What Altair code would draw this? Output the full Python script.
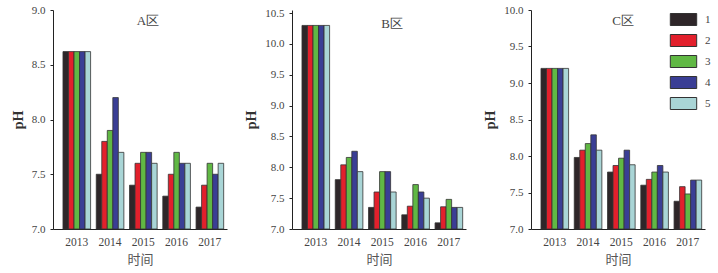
import altair as alt
import pandas as pd

years = ["2013", "2014", "2015", "2016", "2017"]
series = ["1", "2", "3", "4", "5"]
colors = ["#2e2629", "#e2202c", "#60b844", "#3a3e95", "#a9d5d6"]

# values per series (1..5), one list per year
a_vals = {
    "2013": [8.62, 8.62, 8.62, 8.62, 8.62],
    "2014": [7.50, 7.80, 7.90, 8.20, 7.70],
    "2015": [7.40, 7.60, 7.70, 7.70, 7.60],
    "2016": [7.30, 7.50, 7.70, 7.60, 7.60],
    "2017": [7.20, 7.40, 7.60, 7.50, 7.60],
}
b_vals = {
    "2013": [10.30, 10.30, 10.30, 10.30, 10.30],
    "2014": [7.80, 8.04, 8.16, 8.26, 7.93],
    "2015": [7.35, 7.60, 7.93, 7.93, 7.60],
    "2016": [7.23, 7.37, 7.72, 7.60, 7.50],
    "2017": [7.10, 7.36, 7.48, 7.35, 7.35],
}
c_vals = {
    "2013": [9.20, 9.20, 9.20, 9.20, 9.20],
    "2014": [7.98, 8.08, 8.17, 8.29, 8.08],
    "2015": [7.78, 7.87, 7.97, 8.08, 7.88],
    "2016": [7.60, 7.68, 7.78, 7.87, 7.78],
    "2017": [7.38, 7.58, 7.48, 7.67, 7.67],
}

panels = [
    ("A区", a_vals, [7.0, 9.0], [7.0, 7.5, 8.0, 8.5, 9.0], 8),
    ("B区", b_vals, [7.0, 10.55], [7.0, 7.5, 8.0, 8.5, 9.0, 9.5, 10.0, 10.5], 13),
    ("C区", c_vals, [7.0, 10.0], [7.0, 7.5, 8.0, 8.5, 9.0, 9.5, 10.0], 5),
]

SERIF = "Liberation Serif"
CJK = "Noto Sans CJK SC"


def make_panel(name, vals, domain, ticks, dx, with_legend):
    rows = []
    for y in years:
        for s, v in zip(series, vals[y]):
            rows.append({"year": y, "series": s, "value": v})
    df = pd.DataFrame(rows)
    if with_legend:
        legend = alt.Legend(
            title=None,
            orient="none",
            legendX=146,
            legendY=3,
            padding=0,
            symbolType="M-2.2,-1H2.2V1H-2.2Z",
            symbolSize=144,
            symbolStrokeColor="#333333",
            symbolStrokeWidth=1,
            symbolOpacity=1,
            labelFont=SERIF,
            labelFontSize=11,
            labelColor="#444444",
            labelOffset=15,
            rowPadding=4,
        )
    else:
        legend = None
    chart = alt.Chart(df).mark_bar(stroke="#333333", strokeWidth=0.8).encode(
        x=alt.X(
            "year:N",
            sort=years,
            scale=alt.Scale(paddingInner=0.17, paddingOuter=0.2, align=0.75),
            axis=alt.Axis(
                title="时间",
                labelAngle=0,
                ticks=False,
                labelPadding=7,
                labelFontSize=11.5,
                titleFont=CJK,
                titleFontSize=13,
                titleFontWeight="normal",
                titleColor="#555555",
                titlePadding=6,
            ),
        ),
        xOffset=alt.XOffset("series:N", sort=series, scale=alt.Scale(paddingInner=0)),
        y=alt.Y(
            "value:Q",
            scale=alt.Scale(domain=domain, zero=False, nice=False),
            axis=alt.Axis(
                title="pH",
                values=ticks,
                format=".1f",
                titleFont=SERIF,
                titleFontSize=14,
                titleFontWeight="bold",
                titleColor="#333333",
                titlePadding=6,
                tickSize=3,
                labelPadding=5,
            ),
        ),
        y2=alt.datum(7.0),
        color=alt.Color(
            "series:N",
            sort=series,
            scale=alt.Scale(domain=series, range=colors),
            legend=legend,
        ),
    ).properties(
        width=174,
        height=219,
        title=alt.TitleParams(
            name,
            font=SERIF,
            fontSize=13,
            fontWeight="normal",
            color="#444444",
            offset=-24,
            dx=dx,
            anchor="middle",
        ),
    )
    return chart


charts = [make_panel(n, v, d, t, dx, i == 2) for i, (n, v, d, t, dx) in enumerate(panels)]

chart = alt.hconcat(*charts, spacing=65, bounds="flush").resolve_scale(
    color="independent", y="independent"
).configure_view(stroke=None).configure_axis(
    grid=False,
    domainColor="#222222",
    domainWidth=1,
    tickColor="#222222",
    labelFont=SERIF,
    labelFontSize=11,
    labelColor="#444444",
).properties(
    padding={"left": 11, "top": 4, "right": 5, "bottom": 5}
)

chart.save("out.html", embed_options={"renderer": "svg", "actions": False})
